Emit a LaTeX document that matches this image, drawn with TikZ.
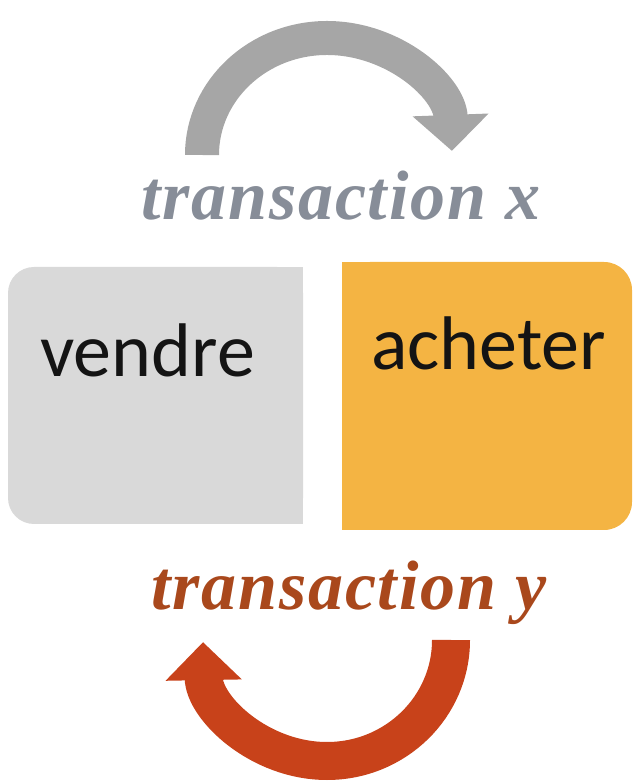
\documentclass[tikz,border=0pt]{standalone}
\usepackage{fontspec}
\setmainfont{Liberation Serif}
\newfontfamily\boxfont{Carlito}
\newfontfamily\transfont[LetterSpace=2.5]{Liberation Serif}
\usetikzlibrary{arrows.meta}
\definecolor{boxgray}{HTML}{D9D9D9}
\definecolor{boxorange}{HTML}{F4B443}
\definecolor{arrgray}{HTML}{A6A6A6}
\definecolor{arrred}{HTML}{C8421A}
\definecolor{txgray}{HTML}{878D98}
\definecolor{txred}{HTML}{A9481C}
\definecolor{boxtext}{HTML}{141414}
\tikzset{
  boxlabel/.style={font=\boxfont\fontsize{76}{76}\selectfont, text=boxtext, anchor=base, inner sep=0pt},
  translabel/.style={font=\transfont\fontsize{70}{70}\selectfont\bfseries\itshape, anchor=base, inner sep=0pt},
}
\begin{document}
\begin{tikzpicture}[x=1pt,y=1pt]
\useasboundingbox (0,0) rectangle (640,781);
% boxes
\fill[boxgray, rounded corners=26pt] (8,257) rectangle (303,514);
\fill[boxgray] (200,257) rectangle (303,514);
\fill[boxorange, rounded corners=28pt] (342,251) rectangle (632,519);
\fill[boxorange] (342,251) rectangle (450,519);
\node[boxlabel] (vendre) at (147.5,404) {vendre};
\node[boxlabel] (acheter) at (488.5,411) {acheter};
% texts
\node[translabel, text=txgray] (tx) at (341,561) {transaction x};
\node[translabel, text=txred] (ty) at (349,171) {transaction y};
% gray arrow
\coordinate (gs) at (202,626);
\draw[line width=34pt, arrgray, -{Triangle[length=36pt,width=74pt]}] (gs) arc[start angle=180, end angle=2, x radius=125, y radius=117];
% red arrow
\coordinate (rs) at (451,141);
\draw[line width=38pt, arrred, -{Triangle[length=38pt,width=74pt]}] (rs) arc[start angle=0, end angle=-179, x radius=124, y radius=121];
\end{tikzpicture}
\end{document}
